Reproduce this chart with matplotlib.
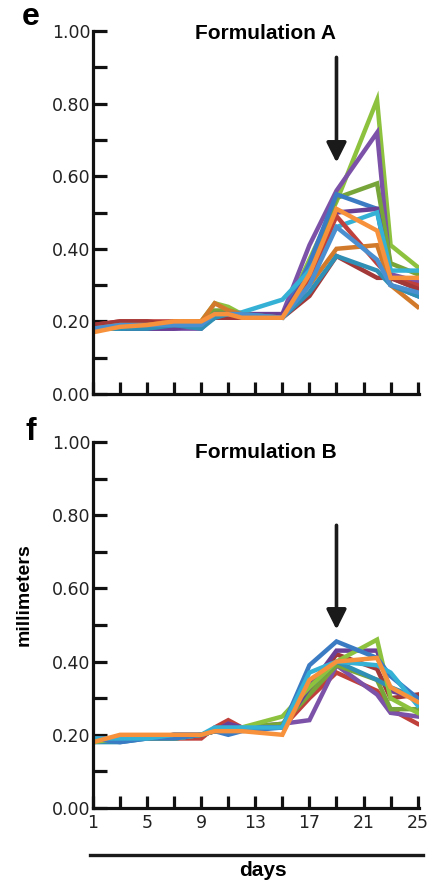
import matplotlib
matplotlib.use('Agg')
import matplotlib.pyplot as plt
import numpy as np

# sampling days
days = [1, 3, 5, 7, 9, 10, 11, 12, 15, 17, 19, 22, 23, 25]

# Formulation A (panel e), millimeters
a_green = [0.18, 0.19, 0.19, 0.19, 0.20, 0.25, 0.24, 0.22, 0.21, 0.37, 0.53, 0.81, 0.41, 0.35]
a_purple = [0.18, 0.18, 0.18, 0.18, 0.18, 0.22, 0.22, 0.22, 0.22, 0.41, 0.56, 0.72, 0.33, 0.31]
a_green_dk = [0.18, 0.19, 0.19, 0.19, 0.19, 0.23, 0.23, 0.22, 0.21, 0.34, 0.54, 0.58, 0.36, 0.33]
a_blue = [0.18, 0.18, 0.18, 0.19, 0.19, 0.22, 0.22, 0.22, 0.21, 0.36, 0.55, 0.51, 0.30, 0.27]
a_purple_dk = [0.18, 0.18, 0.18, 0.18, 0.19, 0.22, 0.22, 0.22, 0.22, 0.33, 0.50, 0.51, 0.32, 0.29]
a_cyan = [0.18, 0.18, 0.19, 0.19, 0.19, 0.21, 0.22, 0.225, 0.26, 0.34, 0.46, 0.50, 0.34, 0.34]
a_red = [0.19, 0.20, 0.20, 0.20, 0.19, 0.22, 0.22, 0.21, 0.21, 0.32, 0.49, 0.36, 0.32, 0.30]
a_red_dk = [0.19, 0.20, 0.20, 0.19, 0.19, 0.21, 0.21, 0.21, 0.21, 0.27, 0.38, 0.32, 0.32, 0.29]
a_orange_dk = [0.18, 0.19, 0.19, 0.20, 0.20, 0.25, 0.23, 0.22, 0.21, 0.30, 0.40, 0.41, 0.30, 0.24]
a_teal = [0.18, 0.18, 0.18, 0.19, 0.18, 0.21, 0.22, 0.22, 0.21, 0.28, 0.38, 0.34, 0.30, 0.27]
a_blue2 = [0.18, 0.19, 0.19, 0.19, 0.19, 0.22, 0.22, 0.22, 0.21, 0.30, 0.46, 0.37, 0.30, 0.28]
a_orange = [0.17, 0.185, 0.19, 0.20, 0.20, 0.22, 0.22, 0.21, 0.21, 0.33, 0.51, 0.45, 0.32, 0.32]

# Formulation B (panel f), millimeters
b_red_dk = [0.19, 0.19, 0.19, 0.20, 0.20, 0.21, 0.22, 0.22, 0.22, 0.32, 0.42, 0.38, 0.30, 0.31]
b_red = [0.19, 0.19, 0.19, 0.19, 0.19, 0.22, 0.24, 0.22, 0.22, 0.30, 0.37, 0.32, 0.27, 0.23]
b_purple = [0.18, 0.19, 0.19, 0.19, 0.20, 0.21, 0.23, 0.22, 0.23, 0.24, 0.39, 0.31, 0.26, 0.25]
b_green2 = [0.18, 0.19, 0.19, 0.19, 0.20, 0.21, 0.21, 0.22, 0.23, 0.31, 0.39, 0.35, 0.27, 0.27]
b_teal = [0.18, 0.18, 0.19, 0.19, 0.20, 0.21, 0.21, 0.22, 0.22, 0.33, 0.40, 0.35, 0.33, 0.30]
b_purple_dk = [0.19, 0.19, 0.19, 0.20, 0.20, 0.21, 0.23, 0.22, 0.22, 0.33, 0.43, 0.43, 0.32, 0.30]
b_green = [0.18, 0.19, 0.19, 0.19, 0.20, 0.21, 0.21, 0.22, 0.25, 0.33, 0.40, 0.46, 0.30, 0.26]
b_blue = [0.19, 0.18, 0.19, 0.19, 0.20, 0.21, 0.20, 0.21, 0.22, 0.39, 0.455, 0.41, 0.36, 0.30]
b_cyan = [0.19, 0.19, 0.19, 0.20, 0.20, 0.22, 0.22, 0.22, 0.22, 0.37, 0.40, 0.39, 0.37, 0.28]
b_orange = [0.18, 0.20, 0.20, 0.20, 0.20, 0.21, 0.21, 0.21, 0.20, 0.35, 0.40, 0.41, 0.33, 0.29]

series_a = [(a_green, '#8dc23f'), (a_purple, '#7c52a8'), (a_green_dk, '#77a53a'),
            (a_blue, '#3b7bc4'), (a_purple_dk, '#6a3f96'), (a_cyan, '#35b1d6'),
            (a_red, '#c0403c'), (a_red_dk, '#a33838'), (a_orange_dk, '#d27a2b'),
            (a_teal, '#2f8fb4'), (a_blue2, '#4a90d0'), (a_orange, '#f7913b')]
series_b = [(b_red_dk, '#a33838'), (b_red, '#c0403c'), (b_purple, '#7c52a8'),
            (b_green2, '#77a53a'), (b_teal, '#2f8fb4'), (b_purple_dk, '#6a3f96'),
            (b_green, '#8dc23f'), (b_blue, '#3b7bc4'), (b_cyan, '#35b1d6'),
            (b_orange, '#f7913b')]

fig = plt.figure(figsize=(4.34, 8.86), dpi=100)

def setup(ax, show_xlabels):
    ax.set_xlim(1, 25.1)
    ax.set_ylim(0, 1.0)
    for s in ['top', 'right']:
        ax.spines[s].set_visible(False)
    for s in ['left', 'bottom']:
        ax.spines[s].set_linewidth(2.3)
        ax.spines[s].set_color('#111111')
    yt = np.arange(0, 1.01, 0.1)
    ax.set_yticks(yt)
    ax.set_yticklabels(['%.2f' % v if i % 2 == 0 else '' for i, v in enumerate(yt)])
    ax.set_xticks(range(1, 26, 2))
    if show_xlabels:
        ax.set_xticklabels([str(d) if (d - 1) % 4 == 0 else '' for d in range(1, 26, 2)])
    else:
        ax.set_xticklabels([])
    ax.tick_params(axis='y', direction='in', length=10, width=2.3, labelsize=12.5, pad=2,
                   labelcolor='#222222', color='#111111')
    ax.tick_params(axis='x', direction='in', length=9, width=2.3, labelsize=12.5, pad=4,
                   labelcolor='#222222', color='#111111')

arrow_style = dict(arrowstyle='-|>,head_width=0.6,head_length=1.2', color='#1a1a1a', lw=2.6)

# panel e
axA = fig.add_axes([93 / 434, 1 - 394 / 886, 326 / 434, 363 / 886])
for vals, c in series_a:
    axA.plot(days, vals, color=c, lw=3.2, solid_joinstyle='miter')
setup(axA, False)
axA.annotate('', xy=(19, 0.63), xytext=(19, 0.935), arrowprops=arrow_style)
axA.text(0.53, 0.992, 'Formulation A', transform=axA.transAxes, ha='center', va='center',
         fontsize=15, fontweight='bold', family='Liberation Sans')

# panel f
axB = fig.add_axes([93 / 434, 1 - 808 / 886, 326 / 434, 366 / 886])
for vals, c in series_b:
    axB.plot(days, vals, color=c, lw=3.2, solid_joinstyle='miter')
setup(axB, True)
axB.annotate('', xy=(19, 0.48), xytext=(19, 0.78), arrowprops=arrow_style)
axB.text(0.53, 0.972, 'Formulation B', transform=axB.transAxes, ha='center', va='center',
         fontsize=15, fontweight='bold', family='Liberation Sans')

# panel letters and labels
fig.text(31 / 434, 1 - 17 / 886, 'e', fontsize=23, fontweight='bold', family='Liberation Sans', ha='center', va='center')
fig.text(31 / 434, 1 - 432 / 886, 'f', fontsize=23, fontweight='bold', family='Liberation Sans', ha='center', va='center')
fig.text(24 / 434, 1 - 595 / 886, 'millimeters', rotation=90, fontsize=14, fontweight='bold',
         family='Liberation Sans', ha='center', va='center')

# days bracket line
fig.add_artist(plt.Line2D([90 / 434, 423 / 434], [1 - 855 / 886, 1 - 855 / 886], color='#1a1a1a', lw=2.4))
fig.text(263 / 434, 1 - 870 / 886, 'days', fontsize=15, fontweight='bold', family='Liberation Sans',
         ha='center', va='center')

fig.savefig('out.png', dpi=100)
